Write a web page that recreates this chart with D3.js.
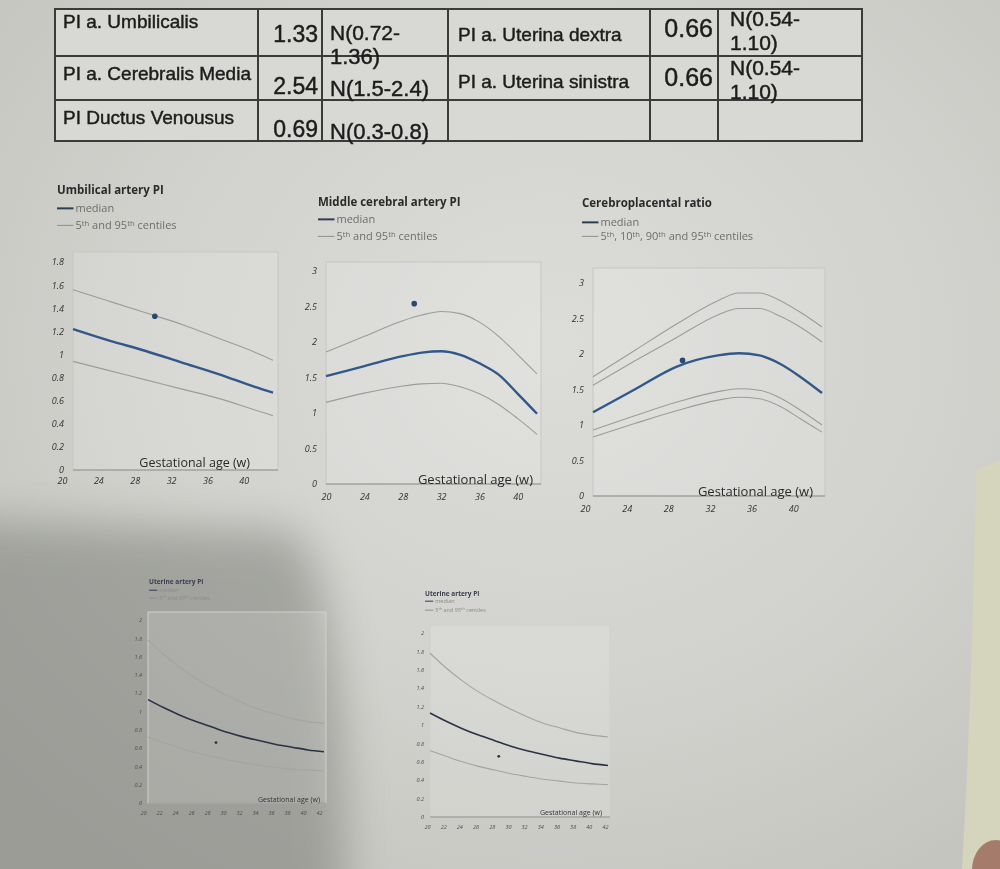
<!DOCTYPE html>
<html>
<head>
<meta charset="utf-8">
<script src="https://cdn.jsdelivr.net/npm/d3@7"></script>
<style>
  body { margin: 0; background: #cbccc7; }
  svg { display: block; }
</style>
</head>
<body>
<div id="page"></div>
<script>
// table contents
var leftNames = ["PI a. Umbilicalis", "PI a. Cerebralis Media", "PI Ductus Venousus"];
var leftValues = ["1.33", "2.54", "0.69"];
var leftRanges = [["N(0.72-", "1.36)"], ["N(1.5-2.4)"], ["N(0.3-0.8)"]];
var rightNames = ["PI a. Uterina dextra", "PI a. Uterina sinistra"];
var rightValues = ["0.66", "0.66"];
var rightRanges = [["N(0.54-", "1.10)"], ["N(0.54-", "1.10)"]];

// umbilical artery PI
var uaWeeks = [20, 24, 28, 32, 36, 40, 42];
var uaP95 = [1.56, 1.46, 1.36, 1.26, 1.14, 1.02, 0.95];
var uaP50 = [1.22, 1.12, 1.03, 0.93, 0.83, 0.72, 0.67];
var uaP5 = [0.94, 0.86, 0.78, 0.70, 0.62, 0.52, 0.47];
var uaPatient = [29, 1.33];

// middle cerebral artery PI
var mcaWeeks = [20, 24, 28, 30, 32, 34, 36, 38, 40, 42];
var mcaP95 = [1.86, 2.08, 2.30, 2.38, 2.43, 2.40, 2.28, 2.08, 1.82, 1.55];
var mcaP50 = [1.52, 1.66, 1.80, 1.85, 1.87, 1.82, 1.70, 1.54, 1.27, 0.99];
var mcaP5 = [1.15, 1.28, 1.38, 1.41, 1.42, 1.37, 1.27, 1.12, 0.92, 0.70];
var mcaPatient = [29.2, 2.54];

// cerebroplacental ratio
var cprWeeks = [20, 24, 28, 32, 34, 36, 38, 40, 42];
var cprP95 = [1.68, 2.05, 2.42, 2.75, 2.86, 2.86, 2.75, 2.58, 2.38];
var cprP90 = [1.56, 1.90, 2.23, 2.55, 2.64, 2.64, 2.53, 2.37, 2.17];
var cprP50 = [1.18, 1.50, 1.82, 1.98, 2.01, 1.98, 1.86, 1.67, 1.45];
var cprP10 = [0.93, 1.13, 1.32, 1.47, 1.51, 1.49, 1.38, 1.20, 1.00];
var cprP5 = [0.83, 1.02, 1.20, 1.35, 1.39, 1.37, 1.26, 1.08, 0.90];
var cprPatient = [28.6, 1.91];

// uterine artery PI (right and left)
var utWeeks = [20, 22, 24, 26, 28, 30, 32, 34, 36, 38, 40, 42];
var utP95 = [1.78, 1.62, 1.48, 1.36, 1.26, 1.17, 1.09, 1.02, 0.97, 0.92, 0.89, 0.87];
var utP50 = [1.13, 1.04, 0.96, 0.89, 0.83, 0.77, 0.72, 0.68, 0.64, 0.61, 0.58, 0.56];
var utP5 = [0.72, 0.66, 0.60, 0.55, 0.51, 0.47, 0.44, 0.41, 0.39, 0.37, 0.36, 0.35];
var utRightPatient = [28.5, 0.66];
var utLeftPatient = [28.5, 0.66];

var bigXTicks = [20, 24, 28, 32, 36, 40];
var smallXTicks = [20, 22, 24, 26, 28, 30, 32, 34, 36, 38, 40, 42];

function init() {
  var width = 1000, height = 869;

  var svg = d3.select("#page")
    .append("svg")
    .attr("width", width)
    .attr("height", height);

  var defs = svg.append("defs");
  var rg = defs.append("radialGradient").attr("id", "paper")
    .attr("cx", "55%").attr("cy", "40%").attr("r", "75%");
  rg.append("stop").attr("offset", "0%").attr("stop-color", "#dcddd9");
  rg.append("stop").attr("offset", "55%").attr("stop-color", "#d1d2cd");
  rg.append("stop").attr("offset", "100%").attr("stop-color", "#c2c3bd");
  defs.append("filter").attr("id", "soft").attr("x", "-50%").attr("y", "-50%").attr("width", "200%").attr("height", "200%")
    .append("feGaussianBlur").attr("stdDeviation", 22);
  defs.append("filter").attr("id", "blur1")
    .append("feGaussianBlur").attr("stdDeviation", 0.35);
  defs.append("filter").attr("id", "blur2")
    .append("feGaussianBlur").attr("stdDeviation", 0.55);

  // paper + shadow
  svg.append("rect").attr("width", width).attr("height", height).attr("fill", "url(#paper)");
  svg.append("path")
    .attr("d", "M-60,520 L290,530 Q350,570 345,930 L-60,930 Z")
    .attr("fill", "#6c6d67").attr("opacity", 0.45).attr("filter", "url(#soft)");
  svg.append("path")
    .attr("d", "M976,470 Q972,700 962,869 L1000,869 L1000,460 Z")
    .attr("fill", "#d5d4bd");
  svg.append("ellipse").attr("cx", 996).attr("cy", 870).attr("rx", 24).attr("ry", 30).attr("fill", "#a57c6c");

  drawTable(svg);

  drawChart(svg, {
    blur: "blur1",
    left: 73, right: 273, frameRight: 278, frameTop: 252, bottom: 470, yTop: 262,
    yMax: 1.8, yTicks: d3.range(0, 1.81, 0.2), xTicks: bigXTicks, xdx: -11, xPad: 8, yPad: 9,
    tickSize: 9, title: "Umbilical artery PI", titleX: 57, titleY: 194, titleSize: 11.5,
    legend: ["median", "5^th^ and 95^th^ centiles"], legendY: [212, 229], legendSize: 11,
    axisTitleX: 250, axisTitleY: 467, axisTitleSize: 12.5,
    weeks: uaWeeks, centiles: [uaP95, uaP5], median: uaP50, patient: uaPatient, medianWidth: 2.4
  });

  drawChart(svg, {
    blur: "blur1",
    left: 326, right: 537, frameRight: 541, frameTop: 262, bottom: 484, yTop: 271,
    yMax: 3, yTicks: d3.range(0, 3.01, 0.5), xTicks: bigXTicks, xdx: 0, xPad: 10, yPad: 9,
    tickSize: 9, title: "Middle cerebral artery PI", titleX: 318, titleY: 206, titleSize: 11.5,
    legend: ["median", "5^th^ and 95^th^ centiles"], legendY: [223, 240], legendSize: 11,
    axisTitleX: 533, axisTitleY: 484, axisTitleSize: 13,
    weeks: mcaWeeks, centiles: [mcaP95, mcaP5], median: mcaP50, patient: mcaPatient, medianWidth: 2.4
  });

  drawChart(svg, {
    blur: "blur1",
    left: 593, right: 822, frameRight: 825, frameTop: 268, bottom: 496, yTop: 283,
    yMax: 3, yTicks: d3.range(0, 3.01, 0.5), xTicks: bigXTicks, xdx: -8, xPad: 10, yPad: 9,
    tickSize: 9, title: "Cerebroplacental ratio", titleX: 582, titleY: 207, titleSize: 11.5,
    legend: ["median", "5^th^, 10^th^, 90^th^ and 95^th^ centiles"], legendY: [226, 240], legendSize: 11,
    axisTitleX: 813, axisTitleY: 496, axisTitleSize: 13,
    weeks: cprWeeks, centiles: [cprP95, cprP90, cprP10, cprP5], median: cprP50, patient: cprPatient, medianWidth: 2.4
  });

  drawChart(svg, {
    blur: "blur2",
    left: 148, right: 324, frameRight: 326, frameTop: 612, bottom: 803, yTop: 620,
    yMax: 2, yTicks: d3.range(0, 2.01, 0.2), xTicks: smallXTicks, xdx: -5, xPad: 8, yPad: 6,
    tickSize: 5.5, title: "Uterine artery PI", titleX: 149, titleY: 584, titleSize: 6.5,
    legend: ["median", "5^th^ and 95^th^ centiles"], legendY: [592, 600], legendSize: 5.5,
    axisTitleX: 320, axisTitleY: 802, axisTitleSize: 7,
    weeks: utWeeks, centiles: [utP95, utP5], median: utP50, patient: utRightPatient, medianWidth: 1.6,
    faint: true
  });

  drawChart(svg, {
    blur: "blur2",
    left: 430, right: 608, frameRight: 610, frameTop: 625, bottom: 817, yTop: 633,
    yMax: 2, yTicks: d3.range(0, 2.01, 0.2), xTicks: smallXTicks, xdx: -3, xPad: 8, yPad: 6,
    tickSize: 5.5, title: "Uterine artery PI", titleX: 425, titleY: 596, titleSize: 6.5,
    legend: ["median", "5^th^ and 95^th^ centiles"], legendY: [603, 612], legendSize: 5.5,
    axisTitleX: 602, axisTitleY: 815, axisTitleSize: 7,
    weeks: utWeeks, centiles: [utP95, utP5], median: utP50, patient: utLeftPatient, medianWidth: 1.6,
    faint: true
  });
}

function drawTable(svg) {
  var g = svg.append("g").attr("filter", "url(#blur1)");
  var colX = [55, 258, 322, 448, 650, 718, 862];
  var rowY = [9, 56, 100, 141];
  var ink = "#1c1c1c";

  g.append("rect")
    .attr("x", colX[0]).attr("y", rowY[0])
    .attr("width", colX[6] - colX[0]).attr("height", rowY[3] - rowY[0])
    .attr("fill", "#d8d9d4").attr("stroke", "#3b3b3b").attr("stroke-width", 2);

  colX.slice(1, 6).forEach(function(cx) {
    g.append("line").attr("x1", cx).attr("x2", cx).attr("y1", rowY[0]).attr("y2", rowY[3])
      .attr("stroke", "#3b3b3b").attr("stroke-width", 2);
  });
  rowY.slice(1, 3).forEach(function(ry) {
    g.append("line").attr("x1", colX[0]).attr("x2", colX[6]).attr("y1", ry).attr("y2", ry)
      .attr("stroke", "#3b3b3b").attr("stroke-width", 2);
  });

  function cellText(x, y, txt, size, anchor) {
    g.append("text")
      .attr("x", x).attr("y", y)
      .attr("font-family", "'Liberation Sans', Arial, sans-serif")
      .attr("font-size", size)
      .attr("text-anchor", anchor || "start")
      .attr("fill", ink).attr("stroke", ink).attr("stroke-width", 0.45)
      .text(txt);
  }

  var nameDy = [19, 24, 24];
  var valueDy = [33, 38, 37];
  var rangeDy = [31, 40, 39];
  leftNames.forEach(function(name, i) {
    cellText(colX[0] + 8, rowY[i] + nameDy[i], name, 19);
    cellText(colX[2] - 4, rowY[i] + valueDy[i], leftValues[i], 23, "end");
    leftRanges[i].forEach(function(part, k) {
      cellText(colX[2] + 8, rowY[i] + rangeDy[i] + k * 24, part, k === 0 && leftRanges[i].length > 1 ? 21 : 22);
    });
  });

  var rNameDy = [32, 32];
  var rValueDy = [28, 30];
  var rRangeDy = [17, 19];
  rightNames.forEach(function(name, i) {
    cellText(colX[3] + 10, rowY[i] + rNameDy[i], name, 19);
    cellText(colX[5] - 5, rowY[i] + rValueDy[i], rightValues[i], 25, "end");
    rightRanges[i].forEach(function(part, k) {
      cellText(colX[5] + 12, rowY[i] + rRangeDy[i] + k * 24, part, 21);
    });
  });
}

// label text with ^...^ marking superscripts
function supText(sel, str) {
  var parts = str.split("^");
  var shift = null;
  parts.forEach(function(p, i) {
    if (!p) return;
    var t = sel.append("tspan").text(p);
    if (i % 2 === 1) {
      t.attr("dy", "-0.45em").attr("font-size", "70%");
      shift = "0.32em";
    } else if (shift) {
      t.attr("dy", shift);
      shift = null;
    }
  });
}

function drawChart(svg, o) {
  var g = svg.append("g").attr("filter", "url(#" + o.blur + ")");
  var font = "'Open Sans', 'Noto Sans', sans-serif";

  var x = d3.scaleLinear().domain([20, 42]).range([o.left, o.right]);
  var y = d3.scaleLinear().domain([0, o.yMax]).range([o.bottom, o.yTop]);

  g.append("rect")
    .attr("x", o.left).attr("y", o.frameTop)
    .attr("width", o.frameRight - o.left).attr("height", o.bottom - o.frameTop)
    .attr("fill", "rgba(255,255,255,0.13)")
    .attr("stroke", o.faint ? "#cfd0cc" : "#c6c7c3").attr("stroke-width", 1);

  var yAxis = d3.axisLeft(y).tickValues(o.yTicks).tickSize(0).tickPadding(o.yPad)
    .tickFormat(function(d) { return String(+d.toFixed(1)); });
  var ya = g.append("g").attr("transform", "translate(" + o.left + ",0)").call(yAxis);
  ya.select(".domain").remove();
  ya.selectAll("text").attr("font-family", font).attr("font-size", o.tickSize)
    .attr("font-style", "italic").attr("fill", o.faint ? "#4a4a4a" : "#333");

  var xAxis = d3.axisBottom(x).tickValues(o.xTicks).tickSize(0).tickPadding(o.xPad);
  var xa = g.append("g").attr("transform", "translate(" + o.xdx + "," + o.bottom + ")").call(xAxis);
  xa.select(".domain").remove();
  xa.selectAll("text").attr("font-family", font).attr("font-size", o.tickSize)
    .attr("font-style", "italic").attr("fill", o.faint ? "#4a4a4a" : "#333");

  g.append("line")
    .attr("x1", o.left).attr("x2", o.frameRight)
    .attr("y1", o.bottom).attr("y2", o.bottom)
    .attr("stroke", "#8f908c").attr("stroke-width", 1);

  var line = d3.line()
    .x(function(d) { return x(d[0]); })
    .y(function(d) { return y(d[1]); })
    .curve(d3.curveMonotoneX);

  o.centiles.forEach(function(c) {
    g.append("path").datum(d3.zip(o.weeks, c))
      .attr("d", line).attr("fill", "none")
      .attr("stroke", o.faint ? "#a3a4a0" : "#9c9d99").attr("stroke-width", 1.1);
  });

  g.append("path").datum(d3.zip(o.weeks, o.median))
    .attr("d", line).attr("fill", "none")
    .attr("stroke", o.faint ? "#2a3346" : "#31588a").attr("stroke-width", o.medianWidth);

  g.append("circle")
    .attr("cx", x(o.patient[0])).attr("cy", y(o.patient[1]))
    .attr("r", o.faint ? 1.4 : 2.8)
    .attr("fill", o.faint ? "#2a3040" : "#2a4a72");

  // title + legend
  g.append("text")
    .attr("x", o.titleX).attr("y", o.titleY)
    .attr("font-family", font).attr("font-weight", "bold")
    .attr("font-size", o.titleSize).attr("fill", o.faint ? "#3a3f4a" : "#2c2c2c")
    .text(o.title);

  var segW = o.legendSize * 1.5;
  o.legend.forEach(function(label, i) {
    var ly = o.legendY[i];
    g.append("line")
      .attr("x1", o.titleX).attr("x2", o.titleX + segW)
      .attr("y1", ly - o.legendSize * 0.33).attr("y2", ly - o.legendSize * 0.33)
      .attr("stroke", i === 0 ? "#2f3e55" : "#8e8f8b")
      .attr("stroke-width", i === 0 ? (o.faint ? 1 : 2) : 1);
    var t = g.append("text")
      .attr("x", o.titleX + segW + 2).attr("y", ly)
      .attr("font-family", font).attr("font-size", o.legendSize)
      .attr("fill", o.faint ? "#8a8b87" : "#6d6e6a");
    supText(t, label);
  });

  g.append("text")
    .attr("x", o.axisTitleX).attr("y", o.axisTitleY)
    .attr("text-anchor", "end")
    .attr("font-family", font).attr("font-size", o.axisTitleSize)
    .attr("fill", o.faint ? "#333" : "#2a2a2a")
    .text("Gestational age (w)");
}

window.onload = init;
</script>
</body>
</html>
